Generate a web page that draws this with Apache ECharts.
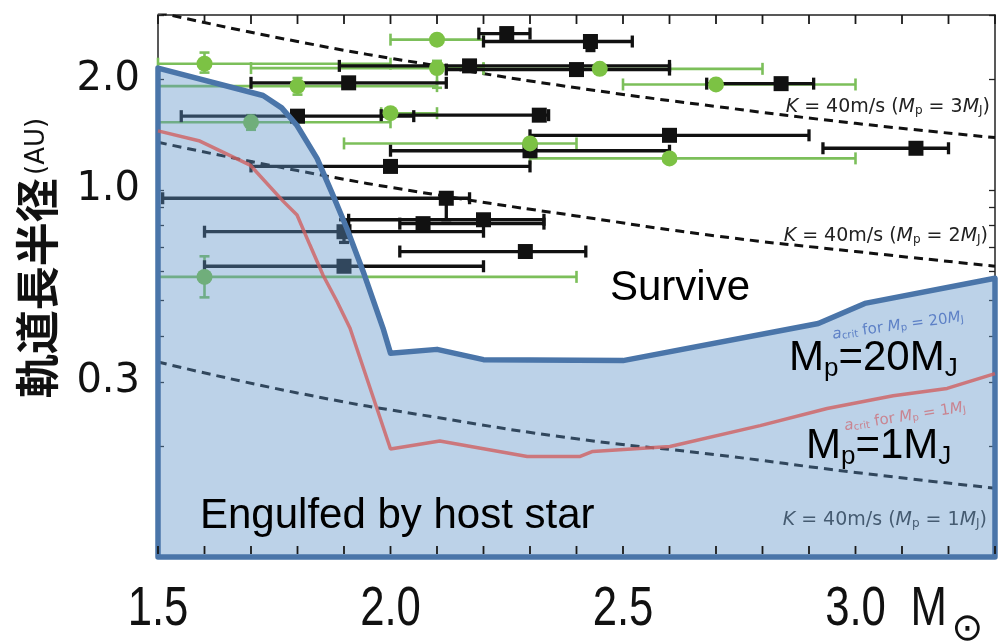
<!DOCTYPE html>
<html>
<head>
<meta charset="utf-8">
<script src="https://cdn.jsdelivr.net/npm/echarts@6/dist/echarts.min.js"></script>
<style>
  html, body { margin: 0; padding: 0; background: #fff; }
  #chart { width: 1004px; height: 643px; }
</style>
</head>
<body>
<div id="chart"></div>
<script>
// Axis ranges and labelled ticks
const massMin = 1.5, massMax = 3.3;
const aMin = 0.1, aMax = 3;
const massLabels = [1.5, 2.0, 2.5, 3.0];
const massTicks = [1.5, 1.6, 1.7, 1.8, 1.9, 2.0, 2.1, 2.2, 2.3, 2.4, 2.5, 2.6, 2.7, 2.8, 2.9, 3.0, 3.1, 3.2, 3.3];
const aLabels = [2.0, 1.0, 0.3];
const aTicks = [0.1, 0.2, 0.3, 0.4, 0.5, 0.6, 0.7, 0.8, 0.9, 1, 2, 3];

// Critical orbit for Mp = 20 MJ: planets inside it are engulfed
const crit20Mass = [1.5, 1.726, 1.766, 1.799, 1.842, 1.876, 1.906, 1.941, 1.984, 2.0, 2.1, 2.2, 2.5, 2.92, 3.02, 3.3];
const crit20A    = [2.15, 1.81, 1.675, 1.50, 1.22, 0.97, 0.787, 0.601, 0.42, 0.359, 0.368, 0.345, 0.343, 0.433, 0.491, 0.575];

// Critical orbit for Mp = 1 MJ
const crit1Mass = [1.5, 1.59, 1.698, 1.769, 1.799, 1.827, 1.855, 1.885, 1.913, 2.0, 2.106, 2.294, 2.408, 2.435, 2.601, 2.795, 2.939, 3.081, 3.197, 3.3];
const crit1A    = [1.45, 1.36, 1.17, 0.933, 0.855, 0.707, 0.586, 0.497, 0.42, 0.197, 0.207, 0.188, 0.188, 0.194, 0.200, 0.228, 0.254, 0.275, 0.288, 0.316];

// Detection limit K = 40 m/s for three planet masses
const kMass = [1.5, 1.8, 2.1, 2.4, 2.7, 3.0, 3.3];
const k3A = [3.05, 2.54, 2.18, 1.90, 1.69, 1.52, 1.39];
const k2A = [1.35, 1.13, 0.97, 0.85, 0.75, 0.68, 0.62];
const k1A = [0.34, 0.28, 0.24, 0.21, 0.19, 0.17, 0.154];

// Known planets: [stellar mass, a, mass low, mass high, a low, a high]
const blackPlanets = [
  [2.25, 2.67, 2.19, 2.30, 2.67, 2.67],
  [2.43, 2.54, 2.20, 2.52, 2.40, 2.54],
  [2.17, 2.18, 1.89, 2.60, 2.18, 2.18],
  [2.40, 2.13, 2.12, 2.60, 2.13, 2.13],
  [1.91, 1.96, 1.70, 2.12, 1.96, 1.96],
  [1.80, 1.59, 1.55, 2.05, 1.59, 1.59],
  [2.32, 1.60, 1.98, 2.34, 1.60, 1.60],
  [2.60, 1.41, 2.30, 2.90, 1.41, 1.41],
  [3.13, 1.30, 2.93, 3.20, 1.30, 1.30],
  [2.00, 1.16, 1.70, 2.30, 1.16, 1.16],
  [2.30, 1.28, 2.00, 2.60, 1.28, 1.28],
  [2.12, 0.95, 1.51, 2.17, 0.83, 0.95],
  [2.07, 0.81, 2.02, 2.33, 0.81, 0.81],
  [2.20, 0.83, 1.91, 2.33, 0.83, 0.83],
  [1.90, 0.77, 1.60, 2.20, 0.72, 0.83],
  [2.29, 0.68, 2.02, 2.42, 0.68, 0.68],
  [1.90, 0.62, 1.60, 2.20, 0.62, 0.62],
  [2.84, 1.95, 2.68, 2.91, 1.95, 1.95]
];
const greenPlanets = [
  [2.10, 2.57, 2.00, 2.20, 2.57, 2.57],
  [1.60, 2.21, 1.50, 2.00, 2.09, 2.37],
  [2.10, 2.15, 1.70, 2.20, 1.90, 2.25],
  [2.45, 2.14, 2.20, 2.80, 2.14, 2.14],
  [1.80, 1.92, 1.50, 2.10, 1.82, 2.02],
  [2.70, 1.94, 2.50, 3.00, 1.94, 1.94],
  [1.70, 1.53, 1.50, 2.00, 1.46, 1.60],
  [2.00, 1.62, 1.98, 2.10, 1.62, 1.62],
  [2.30, 1.34, 1.90, 2.40, 1.34, 1.34],
  [2.60, 1.22, 2.30, 3.00, 1.22, 1.22],
  [1.60, 0.58, 1.50, 2.40, 0.51, 0.66]
];

const zip = (xs, ys) => xs.map((x, i) => [x, ys[i]]);

function errorBarRenderer(color, width) {
  return function (params, api) {
    const m = api.value(0), a = api.value(1);
    const mlo = api.value(2), mhi = api.value(3);
    const alo = api.value(4), ahi = api.value(5);
    const L = api.coord([mlo, a]), R = api.coord([mhi, a]);
    const st = { stroke: color, lineWidth: width };
    const cap = 6;
    const kids = [
      { type: 'line', shape: { x1: L[0], y1: L[1], x2: R[0], y2: R[1] }, style: st },
      { type: 'line', shape: { x1: L[0], y1: L[1] - cap, x2: L[0], y2: L[1] + cap }, style: st },
      { type: 'line', shape: { x1: R[0], y1: R[1] - cap, x2: R[0], y2: R[1] + cap }, style: st }
    ];
    if (alo !== ahi) {
      const B = api.coord([m, alo]), T = api.coord([m, ahi]);
      kids.push({ type: 'line', shape: { x1: B[0], y1: B[1], x2: T[0], y2: T[1] }, style: st });
      if (alo < a) kids.push({ type: 'line', shape: { x1: B[0] - 5, y1: B[1], x2: B[0] + 5, y2: B[1] }, style: st });
      if (ahi > a) kids.push({ type: 'line', shape: { x1: T[0] - 5, y1: T[1], x2: T[0] + 5, y2: T[1] }, style: st });
    }
    return { type: 'group', children: kids };
  };
}

// Inward tick marks on the top and bottom frame, one per mass tick
function massTickRenderer(params, api) {
  const m = api.value(0);
  const b = api.coord([m, aMin]), t = api.coord([m, aMax]);
  const fill = { fill: '#1a1a1a' };
  return {
    type: 'group', children: [
      { type: 'rect', shape: { x: b[0] - 0.9, y: b[1] - 11, width: 1.8, height: 8 }, style: fill },
      { type: 'rect', shape: { x: t[0] - 0.9, y: t[1], width: 1.8, height: 9 }, style: fill }
    ]
  };
}

const kDash = { color: '#111', width: 3, type: [9, 6] };
const SANS = "'Liberation Sans', Arial, sans-serif";
const DJV = "'DejaVu Sans', sans-serif";
const frameLine = { show: true, onZero: false, lineStyle: { color: '#222', width: 1.5 } };
const tickStyle = { color: '#222', width: 1.3 };

function kRich(fill) {
  return {
    i: { fontStyle: 'italic', fontSize: 19, fontFamily: DJV, fill: fill },
    s: { fontSize: 12, fontFamily: DJV, fill: fill, verticalAlign: 'bottom', lineHeight: 16 }
  };
}
function bigRich() {
  return {
    m: { fontSize: 42, lineHeight: 48, fontFamily: SANS, fill: '#000' },
    s: { fontSize: 26, lineHeight: 22, fontFamily: SANS, fill: '#000', verticalAlign: 'bottom' }
  };
}
function critRich(fill) {
  return {
    i: { fontStyle: 'italic', fontSize: 15, fontFamily: DJV, fill: fill },
    s: { fontSize: 10, fontFamily: DJV, fill: fill, verticalAlign: 'bottom', lineHeight: 13 }
  };
}

// Stellar-mass tick labels, drawn in a condensed face under each labelled tick
function massLabelRenderer(params, api) {
  const v = api.value(0);
  const p = api.coord([v, aMin]);
  const txt = v.toFixed(1);
  const kids = [{
    type: 'text', x: p[0], y: p[1] + 53, scaleX: 0.78,
    style: { text: txt, fontSize: 56, fontFamily: SANS, fill: '#111', align: 'center', verticalAlign: 'middle' }
  }];
  if (txt === '3.0') {
    kids.push({
      type: 'text', x: p[0] + 55, y: p[1] + 53, scaleX: 0.78,
      style: { text: 'M', fontSize: 56, fontFamily: SANS, fill: '#111', align: 'left', verticalAlign: 'middle' }
    });
    kids.push({
      type: 'text', x: p[0] + 112, y: p[1] + 73,
      style: { text: '⊙', fontSize: 38, fontFamily: DJV, fill: '#111', align: 'center', verticalAlign: 'middle' }
    });
  }
  return { type: 'group', children: kids };
}

// Engulfment zone for Mp = 20 MJ, closed down to the axis floor
function engulfedRenderer(params, api) {
  const n = crit20Mass.length;
  const pts = [api.coord([crit20Mass[0], aMin])];
  for (let i = 0; i < n; i++) pts.push(api.coord([crit20Mass[i], crit20A[i]]));
  pts.push(api.coord([crit20Mass[n - 1], aMin]));
  return {
    type: 'polygon', shape: { points: pts },
    style: { fill: 'rgba(95,148,200,0.42)', stroke: '#4a75a9', lineWidth: 5.5, lineJoin: 'round' }
  };
}

function massAxis(pos) {
  return {
    type: 'value', position: pos, min: massMin, max: massMax,
    axisLine: frameLine,
    axisTick: { show: false },
    axisLabel: { show: false },
    splitLine: { show: false }
  };
}

const chart = echarts.init(document.getElementById('chart'));
chart.setOption({
  animation: false,
  backgroundColor: '#fff',
  grid: { left: 158, right: 9, top: 15, bottom: 86, outerBoundsMode: 'none', containLabel: false },
  xAxis: [massAxis('bottom'), massAxis('top')],
  yAxis: [
    {
      type: 'log', logBase: 10, min: aMin, max: aMax, position: 'left',
      axisLine: frameLine,
      axisTick: { show: true, inside: true, length: 6, customValues: aTicks, lineStyle: tickStyle },
      splitLine: { show: false },
      minorTick: { show: false },
      axisLabel: {
        customValues: aLabels,
        margin: 18,
        formatter: v => Number(v).toFixed(1),
        fontSize: 40, fontFamily: DJV, color: '#111'
      },
      name: '{cjk|軌道長半径} {au|(AU)}',
      nameLocation: 'middle',
      nameRotate: 90,
      nameGap: 99,
      nameTextStyle: {
        padding: [0, 0, 0, 56],
        rich: {
          cjk: { fontSize: 44, fontWeight: 'bold', fontFamily: "'Noto Sans CJK JP', sans-serif", color: '#111' },
          au: { fontSize: 26, fontFamily: DJV, color: '#111' }
        }
      }
    },
    {
      type: 'log', logBase: 10, min: aMin, max: aMax, position: 'right',
      axisLine: frameLine,
      axisTick: { show: true, inside: true, length: 6, customValues: aTicks, lineStyle: tickStyle },
      axisLabel: { show: false },
      splitLine: { show: false }
    }
  ],
  series: [
    { type: 'line', name: 'K3', data: zip(kMass, k3A), smooth: true, symbol: 'none', lineStyle: kDash, z: 1, silent: true },
    { type: 'line', name: 'K2', data: zip(kMass, k2A), smooth: true, symbol: 'none', lineStyle: kDash, z: 1, silent: true },
    { type: 'line', name: 'K1', data: zip(kMass, k1A), smooth: true, symbol: 'none', lineStyle: kDash, z: 1, silent: true },
    {
      type: 'custom', name: 'greenBars', data: greenPlanets, encode: { x: 0, y: 1 },
      renderItem: errorBarRenderer('#7cbf5a', 2.6), z: 2, silent: true
    },
    {
      type: 'custom', name: 'blackBars', data: blackPlanets, encode: { x: 0, y: 1 },
      renderItem: errorBarRenderer('#111', 3.3), z: 2, silent: true
    },
    {
      type: 'scatter', name: 'black', data: blackPlanets.map(p => [p[0], p[1]]),
      symbol: 'rect', symbolSize: 15, itemStyle: { color: '#111', opacity: 1 }, z: 3, silent: true
    },
    {
      type: 'scatter', name: 'green', data: greenPlanets.map(p => [p[0], p[1]]),
      symbol: 'circle', symbolSize: 16, itemStyle: { color: '#7cc244', opacity: 1 }, z: 3, silent: true
    },
    {
      type: 'custom', name: 'engulfed', data: [[crit20Mass[0], crit20A[0]]],
      z: 5, silent: true, clip: false,
      renderItem: engulfedRenderer
    },
    {
      type: 'custom', name: 'frameTicks', data: massTicks.map(v => [v, 1]), encode: { x: 0, y: 1 },
      renderItem: massTickRenderer, clip: false, silent: true, z: 8
    },
    {
      type: 'line', name: 'crit1', data: zip(crit1Mass, crit1A), symbol: 'none',
      lineStyle: { color: '#d06060', width: 3.5, opacity: 0.8 }, z: 6, silent: true
    },
    {
      type: 'custom', name: 'massLabels', data: massLabels.map(v => [v, aMin]),
      renderItem: massLabelRenderer, clip: false, silent: true, z: 10
    }
  ],
  graphic: {
    elements: [
      { type: 'text', x: 990, y: 107, z: 10,
        style: { text: '{i|K} = 40m/s ({i|M}{s|p} = 3{i|M}{s|J})', rich: kRich('#222'), fontSize: 19, fontFamily: DJV, fill: '#222', align: 'right', verticalAlign: 'middle' } },
      { type: 'text', x: 988, y: 236, z: 10,
        style: { text: '{i|K} = 40m/s ({i|M}{s|p} = 2{i|M}{s|J})', rich: kRich('#222'), fontSize: 19, fontFamily: DJV, fill: '#222', align: 'right', verticalAlign: 'middle' } },
      { type: 'text', x: 987, y: 520, z: 3,
        style: { text: '{i|K} = 40m/s ({i|M}{s|p} = 1{i|M}{s|J})', rich: kRich('#333'), fontSize: 19, fontFamily: DJV, fill: '#333', align: 'right', verticalAlign: 'middle' } },
      { type: 'text', x: 898, y: 326, z: 9, rotation: 0.135,
        style: { text: '{i|a}{s|crit} for {i|M}{s|p} = 20{i|M}{s|J}', rich: critRich('#5d80c6'), fontSize: 15, fontFamily: DJV, fill: '#5d80c6', align: 'center', verticalAlign: 'middle' } },
      { type: 'text', x: 905, y: 417, z: 9, rotation: 0.155,
        style: { text: '{i|a}{s|crit} for {i|M}{s|p} = 1{i|M}{s|J}', rich: critRich('rgba(205,105,115,0.75)'), fontSize: 15, fontFamily: DJV, fill: 'rgba(205,105,115,0.75)', align: 'center', verticalAlign: 'middle' } },
      { type: 'text', x: 610, y: 264, z: 10,
        style: { text: '{m|Survive}', rich: bigRich(), fontSize: 42, fontFamily: SANS, fill: '#000', align: 'left', verticalAlign: 'top' } },
      { type: 'text', x: 789, y: 334, z: 10,
        style: { text: '{m|M}{s|p}{m|=20M}{s|J}', rich: bigRich(), fontSize: 42, fontFamily: SANS, fill: '#000', align: 'left', verticalAlign: 'top' } },
      { type: 'text', x: 806, y: 422, z: 10,
        style: { text: '{m|M}{s|p}{m|=1M}{s|J}', rich: bigRich(), fontSize: 42, fontFamily: SANS, fill: '#000', align: 'left', verticalAlign: 'top' } },
      { type: 'text', x: 200, y: 492, z: 10,
        style: { text: '{m|Engulfed by host star}', rich: bigRich(), fontSize: 42, fontFamily: SANS, fill: '#000', align: 'left', verticalAlign: 'top' } }
    ]
  }
});
</script>
</body>
</html>
